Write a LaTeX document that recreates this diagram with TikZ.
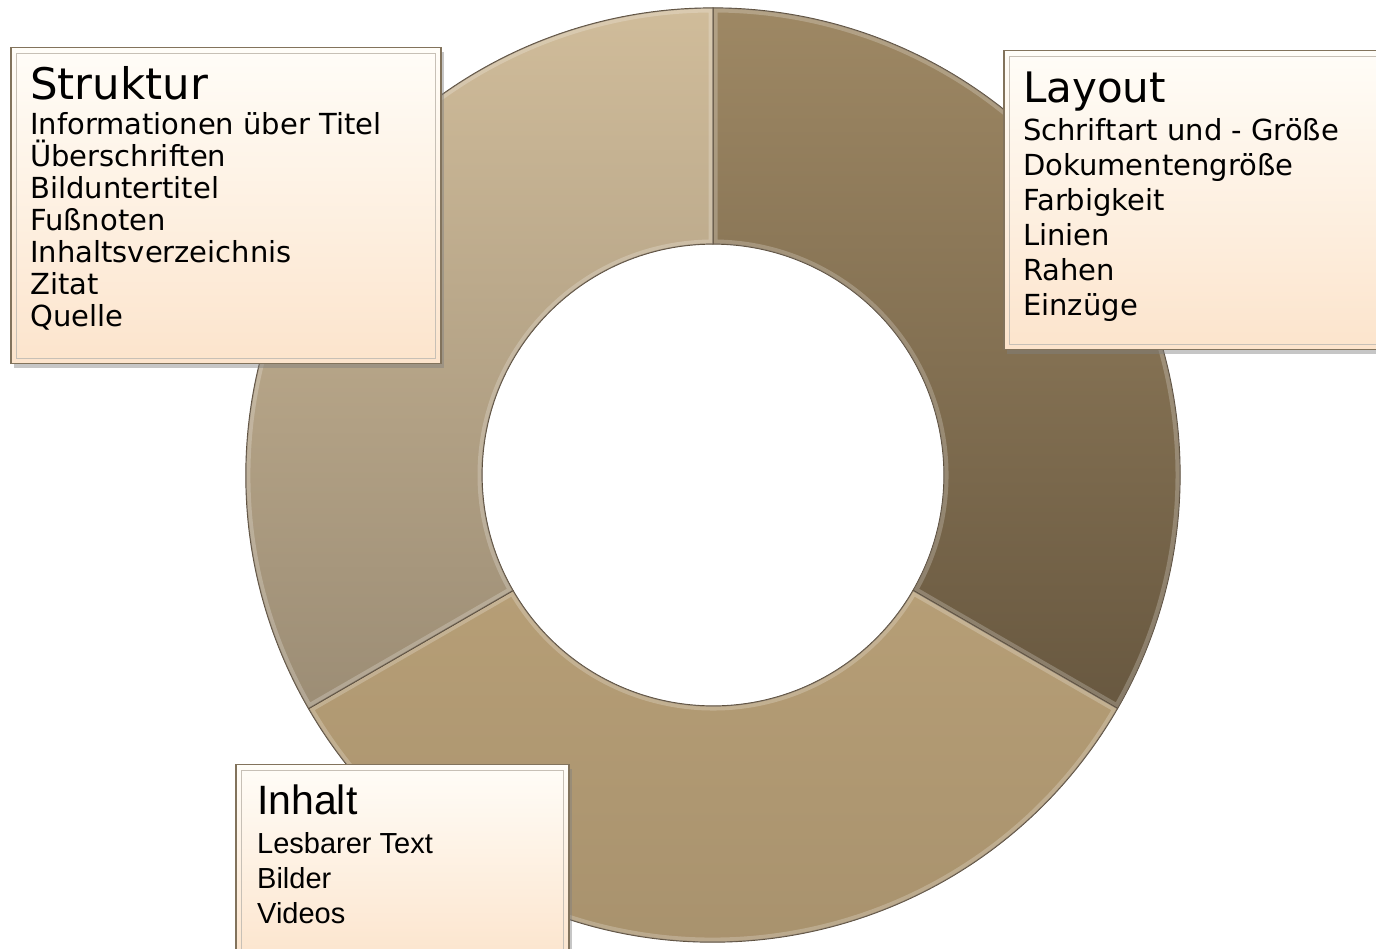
\documentclass[tikz,border=0pt]{standalone}
\usepackage{fontspec}
\usetikzlibrary{shadows, calc, positioning}
\newfontfamily\boxfont{DejaVu Sans}
\newfontfamily\inhaltfont{Liberation Sans}
\definecolor{layoutTop}{RGB}{158,136,100}
\definecolor{layoutBot}{RGB}{104,88,64}
\definecolor{inhaltTop}{RGB}{182,158,118}
\definecolor{inhaltBot}{RGB}{166,144,108}
\definecolor{strukturTop}{RGB}{208,188,154}
\definecolor{strukturBot}{RGB}{156,141,117}
\definecolor{boxTop}{RGB}{255,253,248}
\definecolor{boxBot}{RGB}{252,228,204}
\definecolor{boxEdge}{RGB}{130,115,92}
\definecolor{segEdge}{RGB}{86,72,54}

\tikzset{
  segment/.style={draw=segEdge, line width=1.2pt, line join=round},
  shine/.style={draw=white, opacity=0.22, line width=9pt},
  infobox/.style={draw=boxEdge, line width=1.5pt, top color=boxTop, bottom color=boxBot,
    inner sep=0pt, anchor=north west,
    drop shadow={shadow xshift=3pt, shadow yshift=-4pt, opacity=0.45}},
  bevel/.style={draw=boxEdge!45, line width=0.8pt},
  boxtitle/.style={anchor=base west, inner sep=0pt},
  boxlines/.style={anchor=base west, inner sep=0pt, align=left}
}

\begin{document}
\begin{tikzpicture}[x=1pt, y=1pt]
    \useasboundingbox (0,0) rectangle (1376,948);
    \coordinate (c) at (713,473);

    % Ring segments
    \path[segment, top color=layoutTop, bottom color=layoutBot]
        ([shift={(c)}]90:467) arc[start angle=90, end angle=-30, radius=467]
        -- ([shift={(c)}]-30:231) arc[start angle=-30, end angle=90, radius=231] -- cycle;
    \begin{scope}
        \clip ([shift={(c)}]90:467) arc[start angle=90, end angle=-30, radius=467]
            -- ([shift={(c)}]-30:231) arc[start angle=-30, end angle=90, radius=231] -- cycle;
        \draw[shine] ([shift={(c)}]90:467) arc[start angle=90, end angle=-30, radius=467]
            -- ([shift={(c)}]-30:231) arc[start angle=-30, end angle=90, radius=231] -- cycle;
    \end{scope}
    \path[segment, top color=inhaltTop, bottom color=inhaltBot]
        ([shift={(c)}]-30:467) arc[start angle=-30, end angle=-150, radius=467]
        -- ([shift={(c)}]-150:231) arc[start angle=-150, end angle=-30, radius=231] -- cycle;
    \begin{scope}
        \clip ([shift={(c)}]-30:467) arc[start angle=-30, end angle=-150, radius=467]
            -- ([shift={(c)}]-150:231) arc[start angle=-150, end angle=-30, radius=231] -- cycle;
        \draw[shine] ([shift={(c)}]-30:467) arc[start angle=-30, end angle=-150, radius=467]
            -- ([shift={(c)}]-150:231) arc[start angle=-150, end angle=-30, radius=231] -- cycle;
    \end{scope}
    \path[segment, top color=strukturTop, bottom color=strukturBot]
        ([shift={(c)}]210:467) arc[start angle=210, end angle=90, radius=467]
        -- ([shift={(c)}]90:231) arc[start angle=90, end angle=210, radius=231] -- cycle;
    \begin{scope}
        \clip ([shift={(c)}]210:467) arc[start angle=210, end angle=90, radius=467]
            -- ([shift={(c)}]90:231) arc[start angle=90, end angle=210, radius=231] -- cycle;
        \draw[shine] ([shift={(c)}]210:467) arc[start angle=210, end angle=90, radius=467]
            -- ([shift={(c)}]90:231) arc[start angle=90, end angle=210, radius=231] -- cycle;
    \end{scope}

    % Struktur
    \node[infobox, minimum width=430pt, minimum height=316pt] (strukturBox) at (10,901) {};
    \draw[bevel] ([shift={(6,-6)}]strukturBox.north west) rectangle ([shift={(-6,6)}]strukturBox.south east);
    \node[boxtitle, font=\boxfont\fontsize{43.5}{50}\selectfont] (strukturTitle) at (30,848) {Struktur};
    \node[boxlines, font=\boxfont\fontsize{29}{32}\selectfont] (strukturList) at (30,621)
        {Informationen über Titel\\Überschriften\\Bilduntertitel\\Fußnoten\\Inhaltsverzeichnis\\Zitat\\Quelle};

    % Layout
    \node[infobox, minimum width=385pt, minimum height=299pt] (layoutBox) at (1003,898) {};
    \draw[bevel] ([shift={(6,-6)}]layoutBox.north west) rectangle ([shift={(-6,6)}]layoutBox.south east);
    \node[boxtitle, font=\boxfont\fontsize{42}{50}\selectfont] (layoutTitle) at (1023,845) {Layout};
    \node[boxlines, font=\boxfont\fontsize{29}{35}\selectfont] (layoutList) at (1023,632)
        {Schriftart und - Größe\\Dokumentengröße\\Farbigkeit\\Linien\\Rahen\\Einzüge};

    % Inhalt
    \node[infobox, minimum width=333pt, minimum height=200pt] (inhaltBox) at (235,184) {};
    \draw[bevel] ([shift={(6,-6)}]inhaltBox.north west) rectangle ([shift={(-6,6)}]inhaltBox.south east);
    \node[boxtitle, font=\inhaltfont\fontsize{41}{48}\selectfont] (inhaltTitle) at (257,133) {Inhalt};
    \node[boxlines, font=\inhaltfont\fontsize{29}{35}\selectfont] (inhaltList) at (257,25)
        {Lesbarer Text\\Bilder\\Videos};
\end{tikzpicture}
\end{document}
